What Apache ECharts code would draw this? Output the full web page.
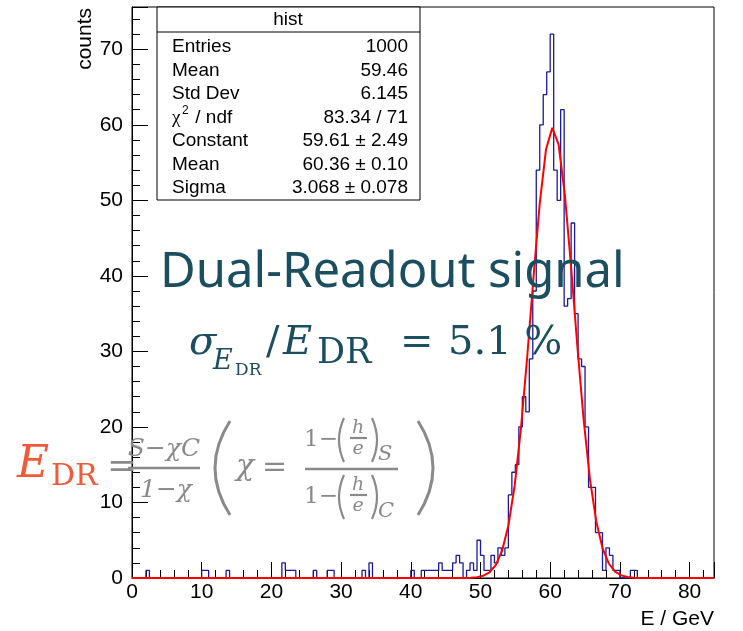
<!DOCTYPE html>
<html>
<head>
<meta charset="utf-8">
<script src="https://cdn.jsdelivr.net/npm/echarts@6/dist/echarts.min.js"></script>
<style>
  html, body { margin: 0; padding: 0; background: #fff; }
  #chart { width: 743px; height: 631px; }
</style>
</head>
<body>
<div id="chart"></div>
<script>
// histogram: 0.5 GeV bins, only the non-empty ones are listed
const binWidth = 0.5;
const xMax = 83.5;
const yMax = 75.6;
const binLow = [2.0, 10.0, 10.5, 13.5, 21.5, 22.0, 22.5, 23.0, 26.0, 28.0, 28.5, 33.0, 34.0,
  40.0, 41.5, 42.0, 42.5, 43.0, 43.5, 44.0, 44.5, 45.0, 45.5, 46.0, 46.5, 47.0,
  48.0, 48.5, 49.0, 49.5, 50.0, 50.5, 51.0, 51.5, 52.0, 52.5, 53.0, 53.5,
  54.0, 54.5, 55.0, 55.5, 56.0, 56.5, 57.0, 57.5, 58.0, 58.5, 59.0, 59.5,
  60.0, 60.5, 61.0, 61.5, 62.0, 62.5, 63.0, 63.5, 64.0, 64.5, 65.0, 65.5,
  66.0, 66.5, 67.0, 67.5, 68.0, 68.5, 69.0, 69.5, 71.5, 72.0];
const binCount = [1, 1, 1, 1, 2, 1, 1, 1, 1, 1, 1, 1, 2,
  1, 1, 1, 1, 1, 1, 2, 1, 1, 1, 2, 3, 2,
  1, 2, 1, 5, 3, 1, 1, 3, 2, 4, 3, 4,
  11, 14, 15, 20, 24, 22, 29, 38, 54, 60, 64, 67,
  72, 54, 50, 62, 36, 37, 47, 35, 29, 28, 20, 12,
  12, 6, 6, 1, 4, 3, 1, 1, 1, 1];

// gaussian fit curve, as drawn (polyline points)
const fitE = [0, 45.0, 45.9, 46.8, 47.7, 48.6, 49.5, 50.4, 51.3, 52.2, 53.1, 54.0, 54.9,
  55.8, 56.7, 57.6, 58.5, 59.4, 60.3, 61.2, 62.1, 63.0, 63.9, 64.8, 65.7,
  66.6, 67.5, 68.4, 69.3, 70.2, 71.1, 72.0, 72.9, 73.8, 74.7, 83.5];
const fitCounts = [0, 0.0002, 0.001, 0.003, 0.012, 0.038, 0.113, 0.31, 0.76, 1.73, 3.62, 6.95, 12.23,
  19.76, 29.26, 39.77, 49.60, 56.76, 59.60, 57.42, 50.75, 41.17, 30.63, 20.92, 13.10,
  7.53, 3.97, 1.92, 0.85, 0.35, 0.13, 0.045, 0.014, 0.004, 0.001, 0];

// stats box
const statLabels = ['Entries', 'Mean', 'Std Dev', '', 'Constant', 'Mean', 'Sigma'];
const statValues = ['1000', '59.46', '6.145', '83.34 / 71', '59.61 \u00b1 2.49', '60.36 \u00b1 0.10', '3.068 \u00b1 0.078'];

const nBins = Math.round(xMax / binWidth);
const counts = new Array(nBins).fill(0);
binLow.forEach(function (e, i) {
  counts[Math.round(e / binWidth)] = binCount[i];
});
const histData = counts.map(function (c, k) { return [k * binWidth, c]; });
histData.push([nBins * binWidth, counts[nBins - 1]]);
const fitData = fitE.map(function (e, i) { return [e, fitCounts[i]]; });

const SANS = '"Liberation Sans", Arial, Helvetica, sans-serif';
const SERIF = '"DejaVu Serif", "Liberation Serif", serif';
const TEAL = '#1b4e5f';
const GRAY = '#8a8a8a';
const ORANGE = '#f05a3a';

// text helper (y = vertical middle)
function txt(x, y, s, size, opt) {
  opt = opt || {};
  return {
    type: 'text', z: opt.z || 5,
    style: {
      x: x, y: y, text: s,
      font: (opt.italic ? 'italic ' : '') + size + 'px ' + (opt.family || SANS),
      fill: opt.color || '#000',
      align: opt.align || 'left',
      verticalAlign: 'middle'
    }
  };
}
function ln(x1, y1, x2, y2, color, w) {
  return { type: 'line', z: 5, shape: { x1: x1, y1: y1, x2: x2, y2: y2 }, style: { stroke: color, lineWidth: w } };
}
function paren(x, y1, y2, bulge, color, w) {
  return {
    type: 'bezierCurve', z: 5,
    shape: { x1: x, y1: y1, x2: x, y2: y2, cpx1: x + bulge, cpy1: (y1 + y2) / 2 },
    style: { stroke: color, lineWidth: w, fill: null }
  };
}

const graphics = [];
// stats box
graphics.push({ type: 'rect', z: 10, shape: { x: 157, y: 7, width: 263, height: 193 }, style: { fill: '#fff', stroke: '#000', lineWidth: 1 } });
graphics.push(Object.assign(ln(157, 32, 420, 32, '#000', 1), { z: 11 }));
graphics.push(Object.assign(txt(288, 20, 'hist', 19, { align: 'center' }), { z: 11 }));
const rowY = [47, 70.5, 94, 117.5, 141, 165, 188];
rowY.forEach(function (y, i) {
  graphics.push(Object.assign(txt(172, y, statLabels[i], 19), { z: 11 }));
  graphics.push(Object.assign(txt(408, y, statValues[i], 19, { align: 'right' }), { z: 11 }));
});
graphics.push(Object.assign(txt(172, 118.5, '\u03c7', 19, { family: '"Liberation Serif", serif' }), { z: 11 }));
graphics.push(Object.assign(txt(182, 111, '2', 12), { z: 11 }));
graphics.push(Object.assign(txt(190, 117.5, ' / ndf', 19), { z: 11 }));

// axis titles
graphics.push({
  type: 'text', z: 5, x: 85, y: 8, rotation: Math.PI / 2,
  style: { x: 0, y: 0, text: 'counts', font: '21px ' + SANS, fill: '#000', align: 'right', verticalAlign: 'middle' }
});
graphics.push(txt(714, 619, 'E / GeV', 21, { align: 'right' }));

// slide overlays
graphics.push(txt(160, 273, 'Dual-Readout signal', 49, { color: TEAL, family: '"Noto Sans", "Open Sans", sans-serif' }));
graphics.push(txt(189, 344, '\u03c3', 40, { color: TEAL, family: SERIF, italic: true }));
graphics.push(txt(213, 362, 'E', 27, { color: TEAL, family: SERIF, italic: true }));
graphics.push(txt(235, 371, 'DR', 17, { color: TEAL, family: SERIF }));
graphics.push(txt(266, 344, '/', 40, { color: TEAL, family: SERIF }));
graphics.push(txt(283, 344, 'E', 40, { color: TEAL, family: SERIF, italic: true }));
graphics.push(txt(317, 354, 'DR', 35, { color: TEAL, family: SERIF }));
graphics.push(txt(400, 344, '=', 40, { color: TEAL, family: SERIF }));
graphics.push(txt(448, 344, '5.1 %', 40, { color: TEAL, family: SERIF }));

graphics.push(txt(17, 466, 'E', 44, { color: ORANGE, family: SERIF, italic: true }));
graphics.push(txt(51, 477, 'DR', 30, { color: ORANGE, family: SERIF }));
graphics.push(txt(107, 468, '=', 36, { color: GRAY, family: SERIF }));
graphics.push(txt(164, 449, 'S\u2212\u03c7C', 25, { color: GRAY, family: SERIF, italic: true, align: 'center' }));
graphics.push(ln(128, 468, 200, 468, GRAY, 2.5));
graphics.push(txt(166, 490, '1\u2212\u03c7', 25, { color: GRAY, family: SERIF, italic: true, align: 'center' }));
graphics.push(paren(230, 421, 515, -30, GRAY, 3));
graphics.push(paren(418, 421, 515, 30, GRAY, 3));
graphics.push(txt(236, 467, '\u03c7', 30, { color: GRAY, family: SERIF, italic: true }));
graphics.push(txt(262, 468, '=', 30, { color: GRAY, family: SERIF }));
graphics.push(ln(305, 469, 398, 469, GRAY, 2.5));
[[440, 'S'], [497, 'C']].forEach(function (p) {
  const cy = p[0];
  graphics.push(txt(304, cy, '1\u2212', 23, { color: GRAY, family: SERIF }));
  graphics.push(paren(344, cy - 22, cy + 22, -10, GRAY, 2.2));
  graphics.push(paren(372, cy - 22, cy + 22, 10, GRAY, 2.2));
  graphics.push(txt(358, cy - 12, 'h', 19, { color: GRAY, family: SERIF, italic: true, align: 'center' }));
  graphics.push(ln(350, cy - 2, 367, cy - 2, GRAY, 2.2));
  graphics.push(txt(358, cy + 9, 'e', 19, { color: GRAY, family: SERIF, italic: true, align: 'center' }));
  graphics.push(txt(378, cy + 15, p[1], 21, { color: GRAY, family: SERIF, italic: true }));
});

const chart = echarts.init(document.getElementById('chart'));
chart.setOption({
  animation: false,
  backgroundColor: '#fff',
  grid: { left: 132, right: 29, top: 7, bottom: 53, show: true, borderColor: '#000', borderWidth: 1, backgroundColor: 'transparent' },
  xAxis: {
    type: 'value', min: 0, max: xMax, interval: 10,
    axisLine: { lineStyle: { color: '#000', width: 1 } },
    axisTick: { inside: true, length: 16, lineStyle: { color: '#000' } },
    minorTick: { show: true, splitNumber: 5, length: 8, lineStyle: { color: '#000' } },
    splitLine: { show: false },
    axisLabel: { color: '#000', fontSize: 21, fontFamily: SANS, margin: 4, showMaxLabel: false }
  },
  yAxis: {
    type: 'value', min: 0, max: yMax, interval: 10,
    axisLine: { show: true, lineStyle: { color: '#000', width: 1 } },
    axisTick: { show: true, inside: true, length: 16, lineStyle: { color: '#000' } },
    minorTick: { show: true, splitNumber: 5, length: 8, lineStyle: { color: '#000' } },
    splitLine: { show: false },
    axisLabel: { color: '#000', fontSize: 21, fontFamily: SANS, margin: 9, showMaxLabel: false }
  },
  series: [
    {
      name: 'hist', type: 'line', step: 'end', data: histData,
      showSymbol: false, silent: true, z: 3,
      lineStyle: { color: '#1a1a9c', width: 1.3 }
    },
    {
      name: 'fit', type: 'line', data: fitData,
      showSymbol: false, silent: true, z: 4,
      lineStyle: { color: '#ff0000', width: 2 }
    }
  ],
  graphic: graphics
});
</script>
</body>
</html>
